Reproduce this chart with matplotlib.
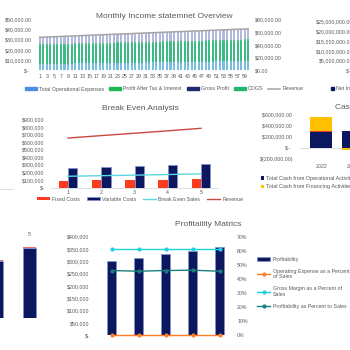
import numpy as np
import matplotlib
matplotlib.use("Agg")
from matplotlib import pyplot as plt
from matplotlib.patches import Patch
from matplotlib.lines import Line2D

plt.rcParams['font.family'] = ['Liberation Sans', 'DejaVu Sans']

TXT = '#595959'
NAVY = '#0B1860'
FS = 3.8
W = H = 350.0

# ---- monthly income statement (60 months)
months = list(range(1, 61))
opex = [6200, 6200, 6300, 6300, 6400, 6400, 6500, 6500, 6600, 6600,
        6700, 6700, 6800, 6800, 6900, 6900, 7000, 7000, 7100, 7100,
        7200, 7200, 7300, 7300, 7400, 7400, 7500, 7500, 7600, 7600,
        7700, 7700, 7800, 7800, 7900, 7900, 8000, 8000, 8100, 8100,
        8200, 8200, 8300, 8300, 8400, 8400, 8500, 8500, 8600, 8600,
        8700, 8700, 8800, 8800, 8900, 8900, 9000, 9000, 9100, 9100]
profit_after_tax = [23500, 23600, 23700, 23800, 23900, 24000, 24000, 24100, 24200, 24300,
                    24400, 24500, 24500, 24600, 24700, 24800, 24900, 25000, 25000, 25100,
                    25200, 25300, 25400, 25500, 25500, 25600, 25700, 25800, 25900, 26000,
                    26000, 26100, 26200, 26300, 26400, 26500, 26500, 26600, 26700, 26800,
                    26900, 27000, 27000, 27100, 27200, 27300, 27400, 27500, 27500, 27600,
                    27700, 27800, 27900, 28000, 28000, 28100, 28200, 28300, 28400, 28500]
gross_profit = [32600, 32800, 32900, 33100, 33200, 33300, 33500, 33600, 33800, 33900,
                34000, 34200, 34300, 34500, 34600, 34800, 34900, 35000, 35200, 35300,
                35500, 35600, 35700, 35900, 36000, 36200, 36300, 36500, 36600, 36700,
                36900, 37000, 37200, 37300, 37400, 37600, 37700, 37900, 38000, 38200,
                38300, 38400, 38600, 38700, 38900, 39000, 39100, 39300, 39400, 39600,
                39700, 39900, 40000, 40100, 40300, 40400, 40600, 40700, 40800, 41000]
cogs = [25500, 25600, 25700, 25700, 25800, 25900, 26000, 26100, 26200, 26200,
        26300, 26400, 26500, 26600, 26600, 26700, 26800, 26900, 27000, 27000,
        27100, 27200, 27300, 27400, 27400, 27500, 27600, 27700, 27800, 27800,
        27900, 28000, 28100, 28200, 28200, 28300, 28400, 28500, 28600, 28600,
        28700, 28800, 28900, 29000, 29000, 29100, 29200, 29300, 29400, 29400,
        29500, 29600, 29700, 29800, 29800, 29900, 30000, 30100, 30200, 30200]
revenue_m = [51800, 52000, 52200, 52500, 52700, 52900, 53100, 53400, 53600, 53800,
             54000, 54300, 54500, 54700, 54900, 55200, 55400, 55600, 55800, 56100,
             56300, 56500, 56700, 57000, 57200, 57400, 57600, 57900, 58100, 58300,
             58500, 58800, 59000, 59200, 59400, 59700, 59900, 60100, 60300, 60600,
             60800, 61000, 61200, 61500, 61700, 61900, 62100, 62400, 62600, 62800,
             63000, 63300, 63500, 63700, 63900, 64200, 64400, 64600, 64800, 65100]

# ---- break even
be_years = [1, 2, 3, 4, 5]
fixed_costs = [82000, 95000, 95000, 99000, 108000]
variable_costs = [257000, 270000, 284000, 293000, 310000]
break_even_sales = [148000, 156000, 163000, 171000, 180000]
be_revenue = [653000, 685000, 716000, 748000, 781000]

# ---- cash flow
cash_years = ['2022', '2023']
cash_oper = [283000, 306000]
cash_invest = [20000, -5000]
cash_fin = [250000, -45000]

# ---- cut off chart bottom left
cut_cats = [4, 5]
cut_main = [285000, 350000]
cut_top = [4000, 4000]

# ---- profitability
prof_years = [1, 2, 3, 4, 5]
profitability = [301000, 313000, 329000, 344000, 358000]
opex_pct = [0.0, 0.0, 0.0, 0.0, 0.0]
gross_margin_pct = [0.615, 0.615, 0.615, 0.615, 0.615]
profit_pct = [0.46, 0.455, 0.46, 0.462, 0.455]


def px(l, t, r, b):
    return [l / W, 1 - b / H, (r - l) / W, (b - t) / H]


def clean(ax):
    for s in ax.spines.values():
        s.set_visible(False)
    ax.tick_params(length=0, labelsize=FS, colors=TXT)


fig = plt.figure(figsize=(3.5, 3.5), dpi=100)

# ================= Monthly income overview
# columns are very thin in the source, so the series overlap and read as pale tints
ax1 = fig.add_axes(px(38, 19.3, 250, 70.3))
bw = 0.6
ax1.bar(months, gross_profit, bw, color='#B3B9DE', lw=0)
ax1.bar(months, cogs, bw, color='#4FC08E', lw=0)
ax1.bar(months, profit_after_tax, bw, color='#3DB985', lw=0)
ax1.bar(months, opex, bw, color='#7BBEDF', lw=0)
ax1.set_xlim(0.5, 60.5)
ax1.set_ylim(0, 50000)
ax1.set_xticks(months[::2])
ax1.set_xticklabels([str(v) for v in months[::2]])
ax1.set_yticks([0, 10000, 20000, 30000, 40000, 50000])
ax1.set_yticklabels(['$-  ', '$10,000.00', '$20,000.00', '$30,000.00', '$40,000.00', '$50,000.00'])
clean(ax1)
ax1.tick_params(axis='y', pad=4.5)
ax1.tick_params(axis='x', pad=3)
ax1b = ax1.twinx()
ax1b.plot(months, revenue_m, color='#A5A5A5', lw=1.1)
ax1b.set_ylim(0, 80000)
ax1b.set_yticks([0, 20000, 40000, 60000, 80000])
ax1b.set_yticklabels(['$0.00', '$20,000.00', '$40,000.00', '$60,000.00', '$80,000.00'])
clean(ax1b)
ax1b.tick_params(axis='y', pad=3.5)
fig.text(164 / W, 1 - 16 / H, 'Monthly Income statemnet Overview', ha='center', va='center',
         fontsize=6, color=TXT)
h_month = [Patch(color='#4A8FE0'), Patch(color='#1DB954'), Patch(color='#1F2A6E'),
           Patch(color='#22B573'), Line2D([], [], color='#A5A5A5', lw=1.1)]
l_month = ['Total Operational Expenses', 'Profit After Tax & Interest', 'Gross Profit',
           'COGS', 'Revenue']
fig.legend(h_month, l_month, loc='center', bbox_to_anchor=(164 / W, 1 - 89 / H), ncol=5,
           frameon=False, fontsize=FS, handlelength=2.3, handleheight=0.6,
           columnspacing=0.9, handletextpad=0.4, labelcolor=TXT)

# net income chart (mostly off the right edge)
ax_ni = fig.add_axes(px(355, 21.7, 520, 70.3))
ax_ni.set_ylim(0, 25000000)
ax_ni.set_yticks([0, 5e6, 10e6, 15e6, 20e6, 25e6])
ax_ni.set_yticklabels(['$-  ', '$5,000,000.00', '$10,000,000.00', '$15,000,000.00',
                       '$20,000,000.00', '$25,000,000.00'])
ax_ni.set_xticks([])
clean(ax_ni)
ax_ni.tick_params(axis='y', pad=1)
fig.legend([Patch(color=NAVY)], ['Net Income'], loc='center left',
           bbox_to_anchor=(326 / W, 1 - 89 / H), frameon=False, fontsize=FS,
           handlelength=0.6, handleheight=0.6, handletextpad=0.3, labelcolor=TXT)

# ================= Break even analysis
ax2 = fig.add_axes(px(51.5, 119.3, 217.5, 187.5))
bx = np.array(be_years)
b_fix = ax2.bar(bx - 0.14, fixed_costs, 0.28, color='#FF3B1F')
b_var = ax2.bar(bx + 0.14, variable_costs, 0.28, color=NAVY, edgecolor='#8391CF', lw=0.5)
l_be, = ax2.plot(be_years, break_even_sales, color='#5CD6E0', lw=1)
l_rev, = ax2.plot(be_years, be_revenue, color='#C94A3F', lw=1)
ax2.set_xlim(0.5, 5.5)
ax2.set_ylim(0, 900000)
ax2.set_xticks(be_years)
ax2.set_yticks(range(0, 900001, 100000))
ax2.set_yticklabels(['$-'] + ['${:,}'.format(v) for v in range(100000, 900001, 100000)])
clean(ax2)
ax2.spines['bottom'].set_visible(True)
ax2.spines['bottom'].set_color('#D9D9D9')
ax2.spines['bottom'].set_linewidth(0.6)
ax2.tick_params(axis='y', pad=5)
ax2.tick_params(axis='x', pad=2)
fig.text(140 / W, 1 - 108.5 / H, 'Break Even Analysis', ha='center', va='center',
         fontsize=6, color=TXT)
ax2.legend([b_fix, b_var, l_be, l_rev],
           ['Fixed Costs', 'Variable Costs', 'Break Even Sales', 'Revenue'],
           loc='center', bbox_to_anchor=(140 / W, 1 - 199 / H), bbox_transform=fig.transFigure,
           ncol=4, frameon=False, fontsize=FS, handlelength=2.5, handleheight=0.6,
           columnspacing=1.3, handletextpad=0.4, labelcolor=TXT)

# left edge: axis line of a chart cut off by the frame
ax5 = fig.add_axes(px(-150, 130, 13, 189))
clean(ax5)
ax5.set_xticks([])
ax5.set_yticks([])
ax5.patch.set_alpha(0)
ax5.spines['bottom'].set_visible(True)
ax5.spines['bottom'].set_color('#D9D9D9')
ax5.spines['bottom'].set_linewidth(0.6)

# ================= Cash flow (cut at right)
ax3 = fig.add_axes(px(300, 114.4, 460, 158.8))
cx = np.arange(len(cash_years))
oper = np.array(cash_oper)
inv = np.array(cash_invest)
fin = np.array(cash_fin)
pos_base = np.zeros(len(cx))
neg_base = np.zeros(len(cx))
bars = []
for vals, col in [(oper, NAVY), (inv, '#E8392B'), (fin, '#FFC000')]:
    base = np.where(vals >= 0, pos_base, neg_base)
    bars.append(ax3.bar(cx, vals, 0.7, bottom=base, color=col))
    pos_base = pos_base + np.where(vals >= 0, vals, 0)
    neg_base = neg_base + np.where(vals < 0, vals, 0)
ax3.axhline(0, color='#D9D9D9', lw=0.6, zorder=0)
ax3.set_xlim(-0.68, 4.4)
ax3.set_ylim(-200000, 600000)
ax3.set_xticks(cx)
ax3.set_xticklabels(cash_years)
ax3.set_yticks([-200000, 0, 200000, 400000, 600000])
ax3.set_yticklabels(['$(200,000.00)', '$-  ', '$200,000.00 ', '$400,000.00 ', '$600,000.00 '])
clean(ax3)
ax3.tick_params(axis='y', pad=5)
ax3.tick_params(axis='x', pad=4)
fig.text(335 / W, 1 - 107.5 / H, 'Cash Flow', ha='left', va='center', fontsize=6, color=TXT)
ax3.legend([bars[0], bars[2], bars[1]],
           ['Total Cash from Operational Activities', 'Total Cash from Financing Activities',
            'Total Cash from Investing Activities'],
           loc='upper left', bbox_to_anchor=(256 / W, 1 - 171 / H), bbox_transform=fig.transFigure,
           ncol=2, frameon=False, fontsize=3.95, handlelength=0.6, handleheight=0.6,
           handletextpad=0.3, labelspacing=0.6, columnspacing=1.5, labelcolor=TXT)

# ================= cut off chart bottom left
ax4 = fig.add_axes(px(-119, 238, 46, 318))
ax4.bar(cut_cats, cut_main, 0.4, color=NAVY, edgecolor='#8391CF', lw=0.4)
ax4.bar(cut_cats, cut_top, 0.4, bottom=cut_main, color='#F26B6B')
ax4.set_xlim(0.5, 5.5)
ax4.set_ylim(0, 400000)
ax4.xaxis.tick_top()
ax4.set_xticks(cut_cats)
ax4.set_yticks([])
clean(ax4)
ax4.tick_params(axis='x', pad=1)

# ================= Profitability
ax6 = fig.add_axes(px(98, 236.7, 233, 335.3))
b_prof = ax6.bar(prof_years, profitability, 0.33, color=NAVY, edgecolor='#8391CF', lw=0.5)
ax6.set_xlim(0.5, 5.5)
ax6.set_ylim(0, 400000)
ax6.set_xticks([])
ax6.set_yticks(range(0, 400001, 50000))
ax6.set_yticklabels(['$-'] + ['${:,}'.format(v) for v in range(50000, 400001, 50000)])
clean(ax6)
ax6.tick_params(axis='y', pad=6)
ax6b = ax6.twinx()
l_op, = ax6b.plot(prof_years, opex_pct, color='#FF7F27', lw=1, marker='o', ms=2, clip_on=False)
l_gm, = ax6b.plot(prof_years, gross_margin_pct, color='#1FD0DE', lw=1, marker='o', ms=2)
l_pp, = ax6b.plot(prof_years, profit_pct, color='#17807D', lw=1, marker='o', ms=2)
ax6b.set_ylim(0, 0.7)
ax6b.set_yticks([0, 0.1, 0.2, 0.3, 0.4, 0.5, 0.6, 0.7])
ax6b.set_yticklabels(['0%', '10%', '20%', '30%', '40%', '50%', '60%', '70%'])
clean(ax6b)
ax6b.tick_params(axis='y', pad=3)
fig.text(208 / W, 1 - 225 / H, 'Profitaility Matrics', ha='center', va='center',
         fontsize=6, color=TXT)
fig.legend([b_prof, l_op, l_gm, l_pp],
           ['Profitability', 'Operating Expense as a Percent\nof Sales',
            'Gross Margin as a Percent of\nSales', 'Profitability as Percent to Sales'],
           loc='upper left', bbox_to_anchor=(252 / W, 1 - 252 / H),
           frameon=False, fontsize=FS, handlelength=2.6, handleheight=0.6,
           handletextpad=0.4, labelspacing=1.3, labelcolor=TXT)

fig.savefig('out.png', dpi=100)
